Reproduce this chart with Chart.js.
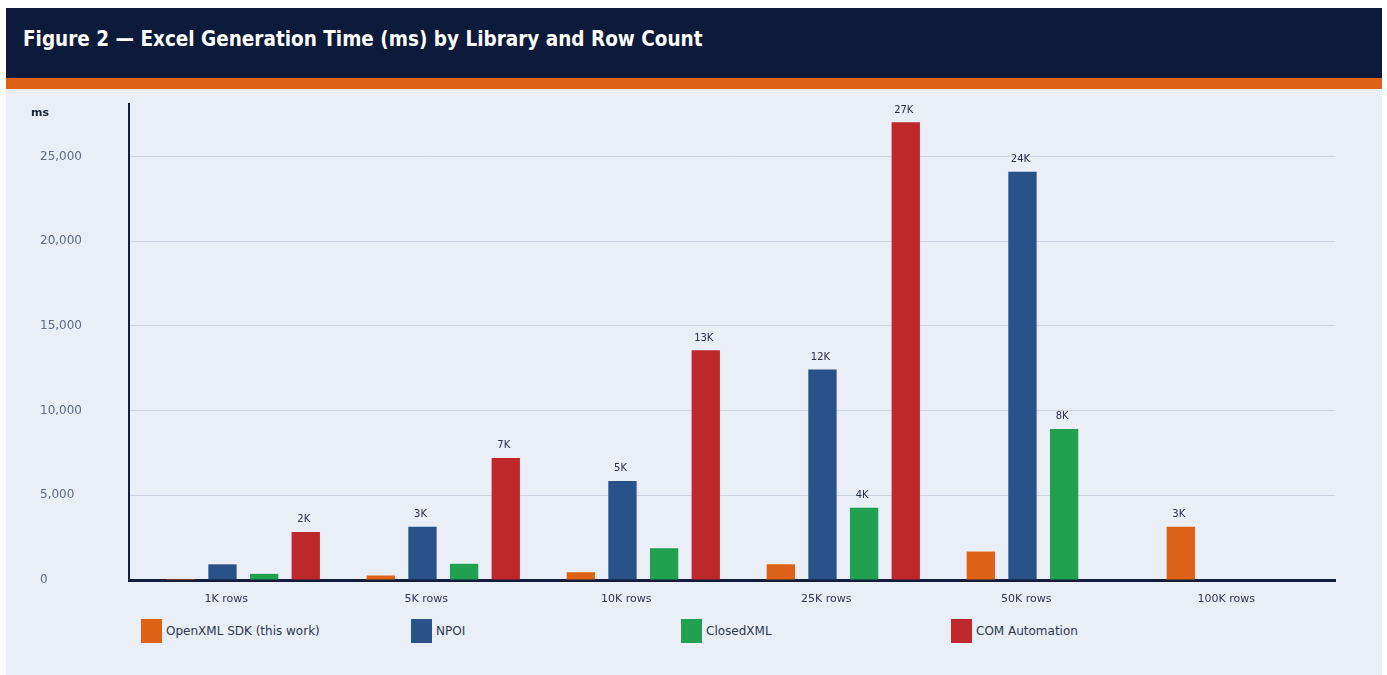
<!DOCTYPE html>
<html>
<head>
<meta charset="utf-8">
<script src="https://cdn.jsdelivr.net/npm/chart.js@4.4.1/dist/chart.umd.min.js"></script>
<style>
  body { margin: 0; background: #ffffff; font-family: "DejaVu Sans", sans-serif; }
  .card { position: absolute; left: 6px; top: 8px; width: 1376px; height: 667px; background: #e9eef7; overflow: hidden; }
  .header { height: 70px; background: #0c1a3b; color: #ffffff; font: bold 20.5px "DejaVu Sans Condensed", "DejaVu Sans", sans-serif; line-height: 62px; padding-left: 17px; }
  .stripe { height: 11px; background: #dd6215; }
  .plot { position: absolute; left: 0; top: 81px; width: 1376px; height: 526px; }
  .legend { position: absolute; left: 135px; top: 611px; display: flex; }
  .legend .item { width: 270px; display: flex; align-items: center; font-size: 12px; color: #2e3650; }
  .legend .swatch { width: 21px; height: 24px; margin-right: 4px; }
</style>
</head>
<body>
<div class="card">
  <div class="header">Figure 2 — Excel Generation Time (ms) by Library and Row Count</div>
  <div class="stripe"></div>
  <div class="plot"><canvas id="genTimeChart"></canvas></div>
  <div class="legend" id="legend"></div>
</div>
<script>
const categories = ['1K rows', '5K rows', '10K rows', '25K rows', '50K rows', '100K rows'];
const seriesNames = ['OpenXML SDK (this work)', 'NPOI', 'ClosedXML', 'COM Automation'];
const seriesColors = ['#dd6215', '#29528a', '#21a04f', '#bf282a'];

// milliseconds, null = not measured
const openXmlMs = [60, 265, 460, 930, 1680, 3140];
const npoiMs = [925, 3140, 5850, 12420, 24100, null];
const closedXmlMs = [365, 955, 1875, 4260, 8920, null];
const comAutomationMs = [2840, 7205, 13560, 27030, null, null];

const yTicks = [0, 5000, 10000, 15000, 20000, 25000];

const seriesValues = [openXmlMs, npoiMs, closedXmlMs, comAutomationMs];

// small labels on top of the larger bars
const barLabels = {
    id: 'barLabels',
    afterDatasetsDraw(chart) {
        const ctx = chart.ctx;
        ctx.save();
        ctx.font = '10px "DejaVu Sans", sans-serif';
        ctx.fillStyle = '#27304a';
        ctx.textAlign = 'center';
        ctx.textBaseline = 'alphabetic';
        chart.data.datasets.forEach((ds, di) => {
            const meta = chart.getDatasetMeta(di);
            meta.data.forEach((bar, i) => {
                const v = seriesValues[di][i];
                if (v == null || v < 2000) return;
                ctx.fillText(Math.floor(v / 1000) + 'K', bar.x - 2, bar.y - 9.5);
            });
        });
        // unit label above the y axis
        ctx.font = 'bold 11px "DejaVu Sans", sans-serif';
        ctx.fillStyle = '#1a2340';
        ctx.textAlign = 'left';
        ctx.textBaseline = 'middle';
        ctx.fillText('ms', chart.scales.y.left - 9, chart.chartArea.top + 9);
        ctx.restore();
    }
};

const canvas = document.getElementById('genTimeChart');
new Chart(canvas, {
    type: 'bar',
    data: {
        datasets: seriesNames.map((name, di) => ({
            label: name,
            data: seriesValues[di].map((v, i) => ({ x: i, y: v })),
            backgroundColor: seriesColors[di],
            borderWidth: 0
        }))
    },
    options: {
        responsive: true,
        maintainAspectRatio: false,
        animation: false,
        categoryPercentage: 0.833,
        barPercentage: 0.68,
        layout: { padding: { left: 34, right: 47, top: 15, bottom: 0 } },
        plugins: {
            legend: { display: false },
            tooltip: { enabled: false }
        },
        scales: {
            x: {
                type: 'linear',
                offset: false,
                min: -0.5715,
                max: 5.4585,
                afterBuildTicks: scale => { scale.ticks = categories.map((c, i) => ({ value: i })); },
                afterFit: scale => { scale.height = 35; },
                grid: { display: false, drawTicks: false, offset: false },
                border: { display: true, color: '#141d3b', width: 3 },
                ticks: {
                    padding: 13,
                    labelOffset: -17,
                    color: '#2e3650',
                    font: { family: 'DejaVu Sans', size: 11 },
                    callback: v => categories[v] ?? ''
                }
            },
            y: {
                min: 0,
                max: 28100,
                afterBuildTicks: scale => { scale.ticks = yTicks.map(v => ({ value: v })); },
                afterFit: scale => { scale.width = 89; },
                grid: { color: '#cdd5e4', lineWidth: 1, drawTicks: false },
                border: { display: true, color: '#141d3b', width: 2 },
                ticks: {
                    crossAlign: 'far',
                    color: '#5d6b86',
                    font: { family: 'DejaVu Sans', size: 12 },
                    callback: v => v.toLocaleString('en-US')
                }
            }
        }
    },
    plugins: [barLabels]
});

const legend = document.getElementById('legend');
seriesNames.forEach((name, i) => {
    const item = document.createElement('div');
    item.className = 'item';
    const sw = document.createElement('span');
    sw.className = 'swatch';
    sw.style.background = seriesColors[i];
    const label = document.createElement('span');
    label.textContent = name;
    item.appendChild(sw);
    item.appendChild(label);
    legend.appendChild(item);
});
</script>
</body>
</html>
